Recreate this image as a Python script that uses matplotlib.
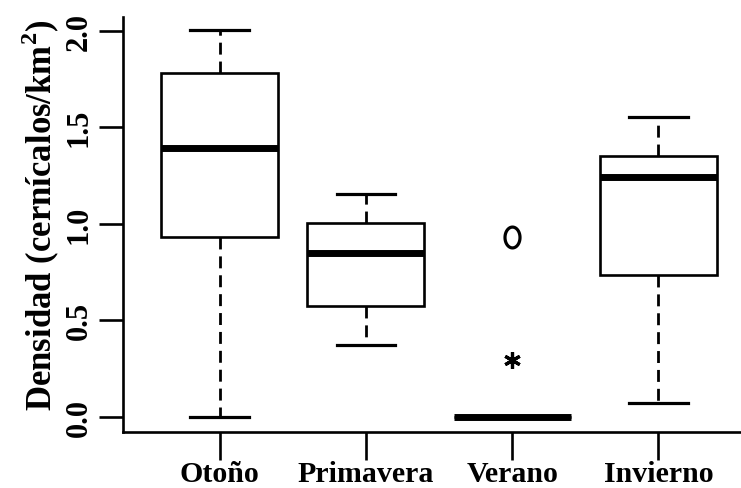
import matplotlib
matplotlib.use("Agg")
import matplotlib.pyplot as plt
import numpy as np
from matplotlib.path import Path

categories = ["Otoño", "Primavera", "Verano", "Invierno"]
whislo = [0.0, 0.37, 0.0, 0.07]
q1 = [0.93, 0.575, 0.0, 0.735]
med = [1.39, 0.845, 0.0, 1.24]
q3 = [1.78, 1.005, 0.0, 1.35]
whishi = [2.005, 1.155, 0.0, 1.55]
fliers_circle = [[], [], [0.93], []]
fliers_star = [[], [], [0.295], []]
yticks = [0.0, 0.5, 1.0, 1.5, 2.0]
ytick_labels = ["0.0", "0.5", "1.0", "1.5", "2.0"]
ylabel = "Densidad (cernícalos/km$^{\\mathbf{2}}$)"

plt.rcParams['font.family'] = ['Liberation Serif', 'DejaVu Serif']
plt.rcParams['mathtext.fontset'] = 'custom'
plt.rcParams['mathtext.rm'] = 'Liberation Serif'
plt.rcParams['mathtext.bf'] = 'Liberation Serif:bold'

W, H = 741, 489
fig = plt.figure(figsize=(W / 100, H / 100), dpi=100)
left_px, right_px, top_px, bot_px = 123, 755, 18, 433
ax = fig.add_axes([left_px / W, (H - bot_px) / H, (right_px - left_px) / W, (bot_px - top_px) / H])

# ellipse marker resembling the letter "o"
t = np.linspace(0, 2 * np.pi, 60)
ell = Path(np.column_stack([0.72 * np.cos(t), np.sin(t)]), closed=True)

stats = []
for i, c in enumerate(categories):
    stats.append(dict(label=c, whislo=whislo[i], q1=q1[i], med=med[i], q3=q3[i],
                      whishi=whishi[i], fliers=fliers_circle[i]))

positions = list(range(1, len(categories) + 1))
ax.bxp(stats, positions=positions, widths=0.8, patch_artist=True,
       boxprops=dict(facecolor='white', edgecolor='black', linewidth=1.9),
       medianprops=dict(color='black', linewidth=5.0, solid_capstyle='butt'),
       whiskerprops=dict(color='black', linewidth=2.0, linestyle=(0, (4.3, 2.5))),
       capprops=dict(color='black', linewidth=2.3),
       capwidths=0.4,
       flierprops=dict(marker=ell, markersize=15, markerfacecolor='none',
                       markeredgecolor='black', markeredgewidth=2.3))

for i, vals in enumerate(fliers_star):
    if vals:
        ax.plot([positions[i]] * len(vals), vals, linestyle='none',
                marker=(6, 2, 0), markersize=12, color='black', markeredgewidth=2.3)

ax.set_xlim(0.34, 4.66)
ax.set_ylim(-0.08, 2.07)
ax.set_yticks(yticks)
ax.set_yticklabels(ytick_labels, rotation=90, va='center', fontsize=22, fontweight='bold')
ax.set_xticks(positions)
ax.set_xticklabels(categories, fontsize=21.5, fontweight='bold')
ax.set_ylabel(ylabel, fontsize=25, fontweight='bold')
ax.yaxis.set_label_coords(-0.097, 0.525)

for s in ['top', 'right']:
    ax.spines[s].set_visible(False)
for s in ['left', 'bottom']:
    ax.spines[s].set_linewidth(1.9)
ax.tick_params(axis='y', length=17, width=1.9, pad=4)
ax.tick_params(axis='x', length=20, width=1.9, pad=0)

fig.savefig("out.png", dpi=100, facecolor='white')
